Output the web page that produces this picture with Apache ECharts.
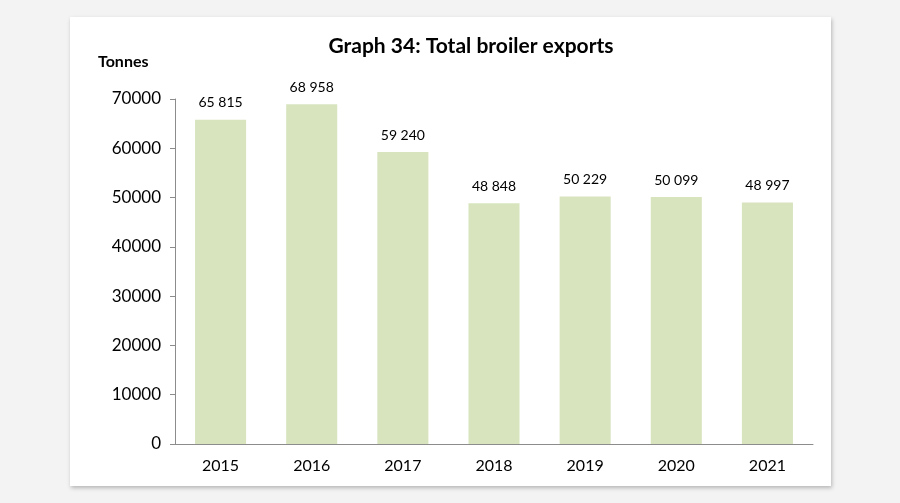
<!DOCTYPE html>
<html>
<head>
<meta charset="utf-8">
<script src="https://cdn.jsdelivr.net/npm/echarts@6/dist/echarts.min.js"></script>
<style>
  html, body { margin: 0; padding: 0; background: #f3f3f3; }
  #frame {
    position: absolute; left: 70px; top: 17px; width: 761px; height: 469px;
    background: #fff; box-shadow: 1px 2px 4px rgba(0,0,0,0.25);
  }
  #chart { position: absolute; left: 0; top: 0; width: 900px; height: 503px; }
</style>
</head>
<body>
<div id="frame"></div>
<div id="chart"></div>
<script>
// data
var years = ['2015', '2016', '2017', '2018', '2019', '2020', '2021'];
var exports = [65815, 68958, 59240, 48848, 50229, 50099, 48997];
var yTicks = [0, 10000, 20000, 30000, 40000, 50000, 60000, 70000];

var font = 'Lato, "Open Sans", sans-serif';

// 65815 -> "65 815"
function spaced(v) {
    return String(v).replace(/\B(?=(\d{3})+(?!\d))/g, ' ');
}

var chart = echarts.init(document.getElementById('chart'));

var option = {
    backgroundColor: 'transparent',
    animation: false,
    textStyle: { fontFamily: font },
    title: [{
        text: 'Graph 34: Total broiler exports',
        left: 466, top: 31, textAlign: 'center',
        textStyle: { fontSize: 21, fontWeight: 'bold', color: '#000', fontFamily: font }
    }, {
        text: 'Tonnes',
        left: 93, top: 49,
        textStyle: { fontSize: 16, fontWeight: 'bold', color: '#000', fontFamily: font }
    }],
    grid: { left: 175, right: 87, top: 99, bottom: 59, containLabel: false },
    xAxis: {
        type: 'category',
        data: years,
        axisLine: { lineStyle: { color: '#8c8c8c', width: 1 } },
        axisTick: { show: false },
        axisLabel: { color: '#000', fontSize: 16, margin: 14, fontFamily: font }
    },
    yAxis: {
        type: 'value',
        min: yTicks[0],
        max: yTicks[yTicks.length - 1],
        interval: 10000,
        splitLine: { show: false },
        axisLine: { show: true, lineStyle: { color: '#8c8c8c', width: 1 } },
        axisTick: { show: true, length: 5, lineStyle: { color: '#8c8c8c' } },
        axisLabel: {
            color: '#000', fontSize: 17, margin: 14, fontFamily: font,
            formatter: function (v) { return String(v); }
        }
    },
    series: [{
        type: 'bar',
        data: exports,
        barWidth: '56%',
        itemStyle: { color: '#d7e4bd' },
        label: {
            show: true,
            position: 'top',
            distance: 10,
            color: '#000',
            fontSize: 14,
            fontFamily: font,
            formatter: function (p) { return spaced(p.value); }
        }
    }]
};

chart.setOption(option);
</script>
</body>
</html>
